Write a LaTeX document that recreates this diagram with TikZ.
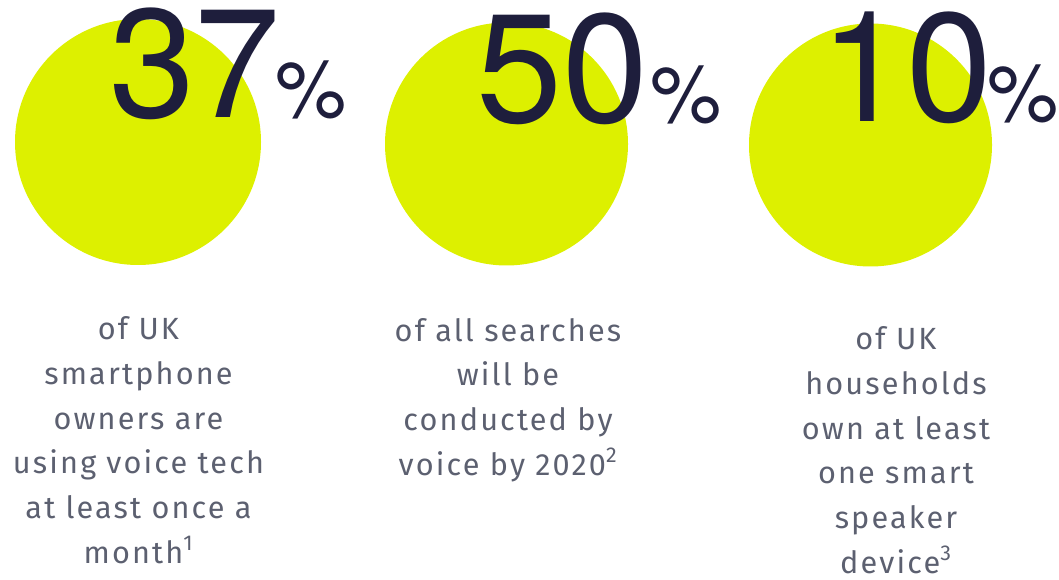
\documentclass[tikz,border=0pt]{standalone}
\usepackage{fontspec}
\usetikzlibrary{positioning}
\setmainfont{Fira Sans}[LetterSpace=7]
\newfontfamily\numfont{TeX Gyre Heros}
\definecolor{lime}{RGB}{221,240,0}
\definecolor{navy}{RGB}{30,30,60}
\definecolor{slate}{RGB}{92,96,112}
\newcommand\fnref[1]{\textsuperscript{#1}}
\tikzset{
	every node/.style={inner sep=0pt,outer sep=0pt},
	blob/.style={fill=lime},
	bignum/.style={anchor=base west,text=navy,font=\numfont\fontsize{116}{116}\selectfont},
	pct/.style={anchor=base west,text=navy,font=\numfont\fontsize{60}{60}\selectfont},
	blurb/.style={anchor=base,text=slate,align=center,font=\fontsize{23}{33.5}\selectfont},
}

\begin{document}
\begin{tikzpicture}[x=0.75pt,y=-0.75pt]
	\useasboundingbox (0,0) rectangle (1059,580);
	
	% circles.....................
	\fill [blob] (138,142) circle [radius=123];
	\fill [blob] (506.5,144) circle [radius=121.5];
	\fill [blob] (870.5,145) circle [radius=121.5];
	
	% big numbers.....................
	\node [bignum] (n1) at (109,118) {37};
	\node [pct] (p1) at (275,118) {\%};
	\node [bignum] (n2) at (476,123) {50};
	\node [pct] (p2) at (650,123) {\%};
	\node [bignum] (n3) at (820,122) {10};
	\node [pct] (p3) at (987,122) {\%};
	
	% texts below (base = last line).....................
	\node [blurb] (t1) at (138.5,563) {of UK\\smartphone\\owners are\\using voice tech\\at least once a\\month\fnref{1}};
	\node [blurb] (t2) at (508,475) {of all searches\\will be\\conducted by\\voice by 2020\fnref{2}};
	\node [blurb] (t3) at (896,573) {of UK\\households\\own at least\\one smart\\speaker\\device\fnref{3}};
\end{tikzpicture}
\end{document}
